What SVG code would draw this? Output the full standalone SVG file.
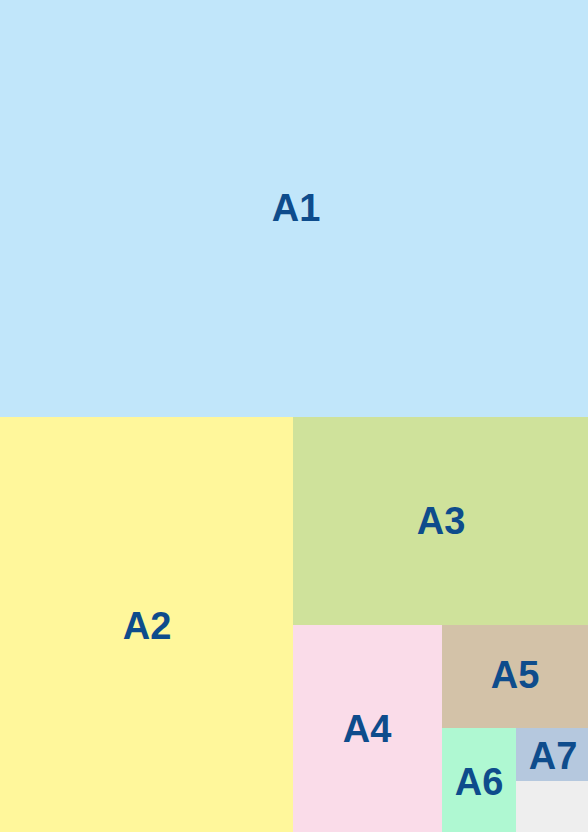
<svg xmlns="http://www.w3.org/2000/svg" width="588" height="832" viewBox="0 0 588 832">
<style>
.lbl{font-family:"Liberation Sans",Arial,sans-serif;font-weight:bold;font-size:38px;fill:#0E4C8C;text-anchor:middle}
</style>
<rect x="0" y="0" width="588" height="832" fill="#EEEEEE"/>
<g id="A1"><rect x="0" y="0" width="588" height="417" fill="#C1E6FA"/><text class="lbl" x="296" y="221">A1</text></g>
<g id="A2"><rect x="0" y="417" width="293" height="415" fill="#FFF79B"/><text class="lbl" x="147" y="639">A2</text></g>
<g id="A3"><rect x="293" y="417" width="295" height="208" fill="#CFE29B"/><text class="lbl" x="441" y="534">A3</text></g>
<g id="A4"><rect x="293" y="625" width="149" height="207" fill="#FADCE9"/><text class="lbl" x="367" y="742">A4</text></g>
<g id="A5"><rect x="442" y="625" width="146" height="103" fill="#D3C2A8"/><text class="lbl" x="515" y="688">A5</text></g>
<g id="A6"><rect x="442" y="728" width="74" height="104" fill="#AFF8D2"/><text class="lbl" x="479" y="795">A6</text></g>
<g id="A7"><rect x="516" y="728" width="72" height="53" fill="#B5C8DE"/><text class="lbl" x="553" y="769">A7</text></g>
<g id="connectors"/>
</svg>
